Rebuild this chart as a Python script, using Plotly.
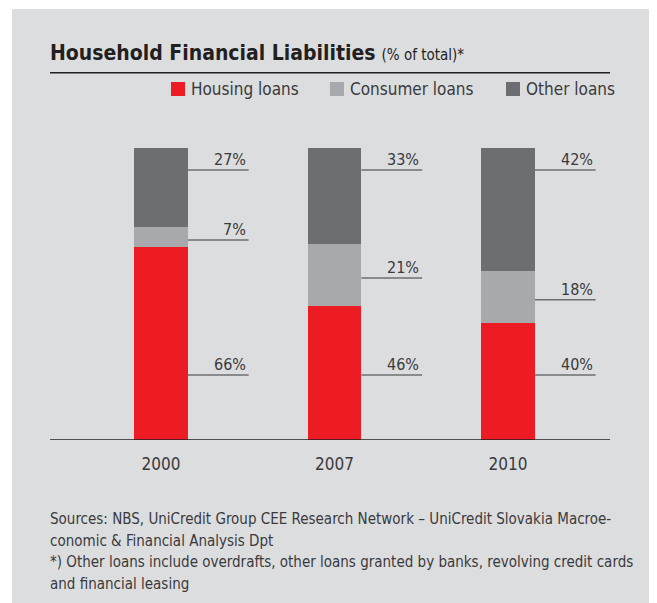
import plotly.graph_objects as go

years = ['2000', '2007', '2010']
housing = [66, 46, 40]
consumer = [7, 21, 18]
other = [27, 33, 42]

series = [
    ('Housing loans', housing, '#ED1C24'),
    ('Consumer loans', consumer, '#A7A9AC'),
    ('Other loans', other, '#6D6E71'),
]

FONT = 'DejaVu Sans Condensed, Liberation Sans Narrow, sans-serif'
BG = '#DCDDDF'
TXT = '#3A3A3C'

# plot area in page pixels: x 50..610, y 148..440 (page has an 8px body margin)
PW, PH = 560, 292


def px_x(x):
    return (x - 50) / PW


def px_y(y):
    return (440 - y) / PH


fig = go.Figure()
for name, vals, color in series:
    fig.add_trace(go.Bar(
        x=list(range(len(years))), y=vals, name=name,
        marker=dict(color=color, line=dict(width=0)),
        width=0.31, hoverinfo='skip'
    ))

# label leaders: other and housing at fixed heights, consumer at its segment middle
bar_half = 0.155
line_len = 0.35
for i in range(len(years)):
    ys = [22.3, housing[i] + consumer[i] / 2 - 1, 92.5]
    texts = [housing[i], consumer[i], other[i]]
    for y, t in zip(ys, texts):
        x0 = i + bar_half
        x1 = x0 + line_len
        fig.add_shape(type='line', x0=x0, x1=x1, y0=y, y1=y, xref='x', yref='y',
                      line=dict(color='#6D6E71', width=1.5))
        fig.add_annotation(x=x1, y=y, xref='x', yref='y', text=f'{t}%',
                           showarrow=False, xanchor='right', yanchor='bottom',
                           yshift=-1, xshift=-1,
                           font=dict(family=FONT, size=16, color=TXT))

# gray panel
fig.add_shape(type='rect', xref='paper', yref='paper', layer='below',
              x0=px_x(12), x1=px_x(655), y0=px_y(610), y1=px_y(9),
              fillcolor=BG, line=dict(width=0))
# title underline
fig.add_shape(type='line', xref='paper', yref='paper',
              x0=0, x1=1, y0=px_y(72.7), y1=px_y(72.7),
              line=dict(color='#231F20', width=1.5))

fig.add_annotation(xref='paper', yref='paper', x=0, y=px_y(67),
                   xanchor='left', yanchor='bottom', showarrow=False, xshift=-2,
                   text='<b>Household Financial Liabilities</b> <span style="font-size:15px">(% of total)*</span>',
                   font=dict(family=FONT, size=21, color='#231F20'))

# legend drawn as squares + labels
legend_items = [(171, 'Housing loans', '#ED1C24'), (330, 'Consumer loans', '#A7A9AC'),
                (506, 'Other loans', '#6D6E71')]
for px, name, color in legend_items:
    fig.add_shape(type='rect', xref='paper', yref='paper',
                  x0=px_x(px), x1=px_x(px + 14),
                  y0=px_y(96), y1=px_y(82),
                  fillcolor=color, line=dict(width=0))
    fig.add_annotation(xref='paper', yref='paper', x=px_x(px + 18), y=px_y(89),
                       xanchor='left', yanchor='middle', showarrow=False, text=name,
                       font=dict(family=FONT, size=17, color=TXT))

footnote = [
    'Sources: NBS, UniCredit Group CEE Research Network – UniCredit Slovakia Macroe-',
    'conomic &amp; Financial Analysis Dpt',
    '*) Other loans include overdrafts, other loans granted by banks, revolving credit cards',
    'and financial leasing',
]
for k, line in enumerate(footnote):
    fig.add_annotation(xref='paper', yref='paper', x=0, y=px_y(519 + 21.5 * k),
                       xanchor='left', yanchor='middle', align='left', showarrow=False,
                       xshift=-2, text=line, font=dict(family=FONT, size=15, color=TXT))

fig.update_layout(
    width=649, height=595,
    margin=dict(l=42, r=47, t=140, b=163),
    barmode='stack', bargap=0,
    paper_bgcolor='white', plot_bgcolor=BG,
    showlegend=False,
    font=dict(family=FONT, color=TXT),
    xaxis=dict(range=[-0.64, 2.588], tickmode='array', tickvals=[0, 1, 2], ticktext=years,
               showgrid=False, zeroline=False, showline=False, ticks='',
               ticklabelstandoff=12,
               tickfont=dict(size=17, color=TXT), fixedrange=True),
    yaxis=dict(range=[0, 100], visible=False, fixedrange=True),
)
fig.add_shape(type='line', xref='paper', yref='y', x0=0, x1=1, y0=0, y1=0,
              line=dict(color='#231F20', width=1.5))

fig.write_html('out.html')
